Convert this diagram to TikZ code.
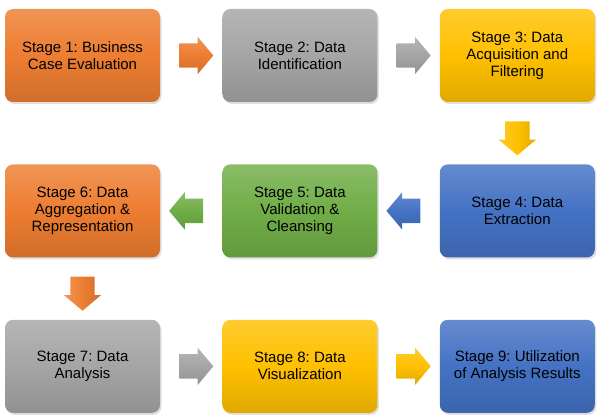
\documentclass[tikz,border=0pt]{standalone}
\usepackage{fontspec}
\setmainfont{Liberation Sans}
\frenchspacing
\usetikzlibrary{positioning, calc, shapes.arrows, shadows}
\definecolor{stageorange}{HTML}{ED7D31}
\definecolor{stagegray}{HTML}{A5A5A5}
\definecolor{stagegold}{HTML}{FFC000}
\definecolor{stageblue}{HTML}{4472C4}
\definecolor{stagegreen}{HTML}{70AD47}
\tikzset{
  stage/.style={
    rectangle, rounded corners=8pt, draw=none, align=center,
    minimum width=155pt, minimum height=93pt, inner sep=2pt,
    top color=#1!82!white, bottom color=#1!88!black, middle color=#1,
    drop shadow={opacity=0.25, shadow xshift=1.5pt, shadow yshift=-2pt},
    font=\fontsize{15}{17}\selectfont
  },
  flow/.style={
    single arrow, draw=none, inner xsep=0pt, inner ysep=12pt,
    minimum height=34pt,
    single arrow head extend=6.5pt, single arrow tip angle=100,
    top color=#1!82!white, bottom color=#1!88!black, middle color=#1
  },
  flowdown/.style={
    flow=#1, rotate=-90,
    left color=#1!82!white, right color=#1!88!black, middle color=#1
  },
  node distance=62pt
}
\begin{document}
\begin{tikzpicture}
      \useasboundingbox (0,0) rectangle (600pt,-417pt);

      \node[stage=stageorange] (s1) at (82.5pt,-55.5pt) {Stage 1: Business\\Case Evaluation};
      \node[stage=stagegray, right = of s1] (s2) {Stage 2: Data\\Identification};
      \node[stage=stagegold, right = of s2] (s3) {Stage 3: Data\\Acquisition and\\Filtering};
      \node[stage=stageblue, below = of s3] (s4) {Stage 4: Data\\Extraction};
      \node[stage=stagegreen, left = of s4] (s5) {Stage 5: Data\\Validation \&\\Cleansing};
      \node[stage=stageorange, left = of s5] (s6) {Stage 6: Data\\Aggregation \&\\Representation};
      \node[stage=stagegray, below = of s6] (s7) {Stage 7: Data\\Analysis};
      \node[stage=stagegold, right = of s7] (s8) {Stage 8: Data\\Visualization};
      \node[stage=stageblue, right = of s8] (s9) {Stage 9: Utilization\\of Analysis Results};

      % block arrows between the stages
      \node[flow=stageorange] (a12) at ($(s1)!0.5!(s2)$) {};
      \node[flow=stagegray] (a23) at ($(s2)!0.5!(s3)$) {};
      \node[flowdown=stagegold] (a34) at ($(s3)!0.5!(s4)$) {};
      \node[flow=stageblue, shape border rotate=180] (a45) at ($(s4)!0.5!(s5)$) {};
      \node[flow=stagegreen, shape border rotate=180] (a56) at ($(s5)!0.5!(s6)$) {};
      \node[flowdown=stageorange] (a67) at ($(s6)!0.5!(s7)$) {};
      \node[flow=stagegray] (a78) at ($(s7)!0.5!(s8)$) {};
      \node[flow=stagegold] (a89) at ($(s8)!0.5!(s9)$) {};
    \end{tikzpicture}
\end{document}
